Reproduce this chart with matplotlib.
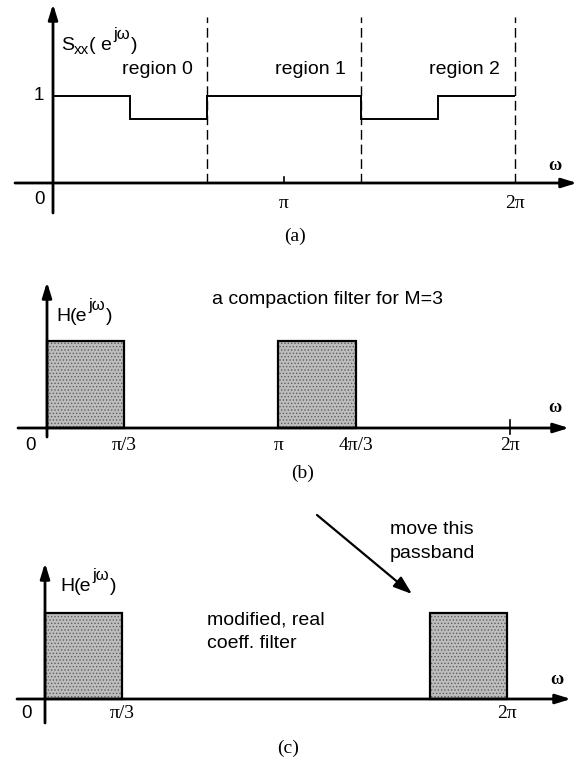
import numpy as np
import matplotlib.pyplot as plt

plt.rcParams['hatch.linewidth'] = 0.6

pi = np.pi
W, H = 581, 766

# (a) input power spectrum, piecewise constant
sxx_edges = [0, pi/3, 2*pi/3, 4*pi/3, 5*pi/3, 2*pi]
sxx_levels = [1, 0.73, 1, 0.73, 1]
region_edges = [2*pi/3, 4*pi/3, 2*pi]
region_names = ['region 0', 'region 1', 'region 2']
ticks_a = [pi, 2*pi]
ticklabels_a = ['\u03c0', '2\u03c0']

# (b) compaction filter for M=3 (complex coefficients)
band_b_start = [0, pi]
band_b_width = [pi/3, pi/3]
ticks_b = [pi/3, pi, 4*pi/3, 2*pi]
ticklabels_b = ['\u03c0/3', '\u03c0', '4\u03c0/3', '2\u03c0']

# (c) modified real coefficient filter
band_c_start = [0, 5*pi/3]
band_c_width = [pi/3, pi/3]
ticks_c = [pi/3, 2*pi]
ticklabels_c = ['\u03c0/3', '2\u03c0']

SANS = 'Liberation Sans'
SERIF = 'Liberation Serif'
AX_ARROW = dict(arrowstyle='-|>,head_length=0.65,head_width=0.2', mutation_scale=14,
                lw=2, color='k', shrinkA=0, shrinkB=0)

fig = plt.figure(figsize=(W/100, H/100), dpi=100)


def panel(x0, x2, yax, y1):
    # one transparent axes over the whole figure, scaled so that
    # omega=0 -> pixel x0, omega=2pi -> x2, level 0 -> yax, level 1 -> y1
    ax = fig.add_axes([0, 0, 1, 1])
    ax.patch.set_alpha(0)
    ax.axis('off')
    k = 2*pi/(x2-x0)
    ax.set_xlim(-x0*k, (W-x0)*k)
    ax.set_ylim((yax-H)/(yax-y1), yax/(yax-y1))

    def P(px, py):
        return ((px-x0)*k, (yax-py)/(yax-y1))
    return ax, P


def axes_arrows(ax, P, xl, xr, yt, yb):
    ax.annotate('', xy=(P(xr, 0)[0], 0), xytext=(P(xl, 0)[0], 0), arrowprops=AX_ARROW)
    ax.annotate('', xy=(0, P(0, yt)[1]), xytext=(0, P(0, yb)[1]), arrowprops=AX_ARROW)


def bands(ax, start, width):
    ax.bar(start, 1, width=width, align='edge', color='#bdbdbd', hatch='.....',
           edgecolor='#5e5e5e', lw=0)
    ax.bar(start, 1, width=width, align='edge', fill=False, edgecolor='k', lw=1.6)


def freq_label(ax, xy, base, sub=None):
    # e.g. H(e^{jw}) written as chained texts so the exponent stays large
    kw = dict(family=SANS, fontsize=14)
    t0 = ax.text(*xy, base[0], ha='left', va='bottom', **kw)
    prev = t0
    if sub:
        prev = ax.annotate(sub, xy=(1, 0), xycoords=t0, ha='left', va='baseline',
                           family=SANS, fontsize=11)
    t1 = ax.annotate(base[1], xy=(1, 0), xycoords=(prev, t0), ha='left', va='bottom', **kw)
    t2 = ax.annotate('j\u03c9', xy=(1.05, 0.72), xycoords=t1, ha='left', va='bottom',
                     family=SANS, fontsize=12)
    ax.annotate(')', xy=(1.05, 0), xycoords=(t2, t0), ha='left', va='bottom', **kw)


# ---- (a)
ax, P = panel(53, 515, 183, 96)
ax.stairs(sxx_levels, sxx_edges, baseline=None, color='k', lw=1.4)
ax.vlines(region_edges, 0, P(0, 17)[1], color='k', lw=1.0, linestyles=(0, (7, 3.5)))
axes_arrows(ax, P, 15, 577, 4, 213)
ax.plot([pi, pi], [0, P(0, 177)[1]], color='k', lw=1.2)
for name, px in zip(region_names, [157, 310, 464]):
    ax.text(P(px, 0)[0], P(0, 70)[1], name, family=SANS, fontsize=14, ha='center', va='center')
freq_label(ax, P(61, 54), ['S', '( e'], sub='xx')
ax.text(*P(44, 96), '1', family=SANS, fontsize=13.5, ha='right', va='center')
ax.text(*P(40, 200), '0', family=SANS, fontsize=13.5, ha='center', va='center')
for t, lab in zip(ticks_a, ticklabels_a):
    ax.text(t, P(0, 204)[1], lab, family=SERIF, fontsize=14, ha='center', va='center')
ax.text(*P(555, 166), '\u03c9', family=SERIF, fontsize=13, weight='bold', ha='center', va='center')
ax.text(*P(295, 236), '(a)', family=SERIF, fontsize=14, ha='center', va='center')

# ---- (b)
ax, P = panel(47, 510, 428, 341)
bands(ax, band_b_start, band_b_width)
axes_arrows(ax, P, 18, 569, 282, 437)
ax.plot([2*pi, 2*pi], [P(0, 420)[1], P(0, 434)[1]], color='k', lw=1.2)
freq_label(ax, P(56, 325), ['H', '(e'])
ax.text(*P(328, 300), 'a compaction filter for M=3', family=SANS, fontsize=14,
        ha='center', va='center')
ax.text(*P(31, 445), '0', family=SANS, fontsize=13.5, ha='center', va='center')
for t, lab in zip(ticks_b, ticklabels_b):
    ax.text(t, P(0, 445)[1], lab, family=SERIF, fontsize=14, ha='center', va='center')
ax.text(*P(555, 408), '\u03c9', family=SERIF, fontsize=13, weight='bold', ha='center', va='center')
ax.text(*P(303, 473), '(b)', family=SERIF, fontsize=14, ha='center', va='center')

# ---- (c)
ax, P = panel(45, 507, 699, 613)
bands(ax, band_c_start, band_c_width)
axes_arrows(ax, P, 17, 571, 563, 723)
freq_label(ax, P(60, 595), ['H', '(e'])
ax.text(*P(207, 620), 'modified, real', family=SANS, fontsize=14, ha='left', va='center')
ax.text(*P(207, 643), 'coeff. filter', family=SANS, fontsize=14, ha='left', va='center')
ax.text(*P(390, 530), 'move this', family=SANS, fontsize=14, ha='left', va='center')
ax.text(*P(390, 554), 'passband', family=SANS, fontsize=14, ha='left', va='center')
ax.annotate('', xy=P(412, 594), xytext=P(317, 515),
            arrowprops=dict(arrowstyle='-|>,head_length=0.8,head_width=0.28', mutation_scale=14,
                            lw=1.6, color='k', shrinkA=0, shrinkB=0))
ax.text(*P(27, 714), '0', family=SANS, fontsize=13.5, ha='center', va='center')
for t, lab in zip(ticks_c, ticklabels_c):
    ax.text(t, P(0, 714)[1], lab, family=SERIF, fontsize=14, ha='center', va='center')
ax.text(*P(557, 680), '\u03c9', family=SERIF, fontsize=13, weight='bold', ha='center', va='center')
ax.text(*P(288, 748), '(c)', family=SERIF, fontsize=14, ha='center', va='center')

fig.savefig('out.png', dpi=100)
